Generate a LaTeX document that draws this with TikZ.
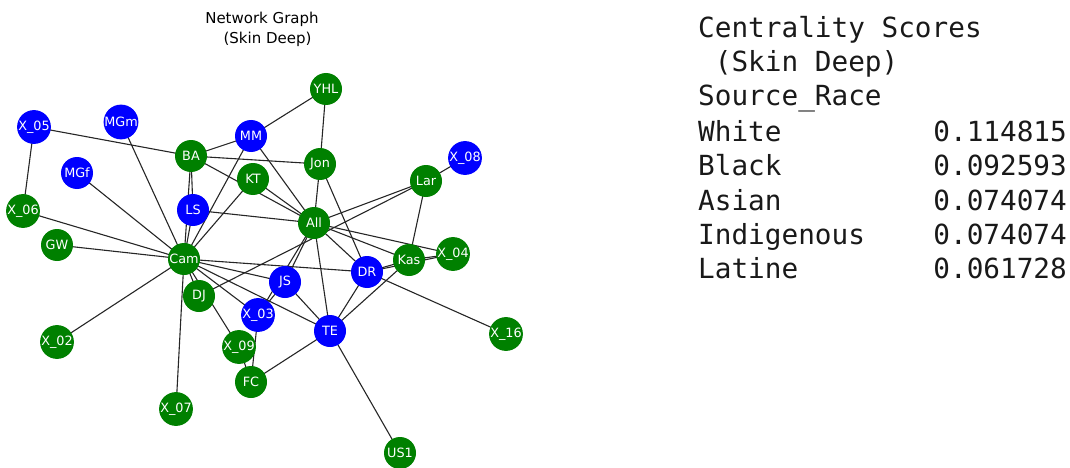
\documentclass[tikz,border=0pt]{standalone}
\usepackage{fontspec}
\setmainfont{DejaVu Sans}
\newfontfamily\monofont{DejaVu Sans Mono}
\definecolor{nodegreen}{HTML}{008000}
\definecolor{nodeblue}{HTML}{0000FF}
\pgfdeclarelayer{bg}
\pgfsetlayers{bg,main}
\begin{document}
\begin{tikzpicture}[x=1pt,y=-1pt,
  vtx/.style={circle,inner sep=0pt,minimum size=32pt,text=white,
    font=\fontsize{12.8}{12.8}\selectfont},
  gv/.style={vtx,fill=nodegreen},
  bv/.style={vtx,fill=nodeblue},
  edge/.style={draw=black!85,line width=1.1pt},
  ttl/.style={font=\fontsize{15}{15}\selectfont,inner sep=0pt},
  tbl/.style={font=\monofont\fontsize{27.7}{27.7}\selectfont,inner sep=0pt,text=black!90}]
\useasboundingbox (0,0) rectangle (1070,468);

% title of the graph panel
\node[ttl] (t1) at (262,19) {Network Graph};
\node[ttl] (t2) at (267.5,39) {(Skin Deep)};

% vertices
\node[bv] (X05) at (34,127) {X\_05};
\node[bv] (MGm) at (121,122) {MGm};
\node[bv] (MGf) at (77,173) {MGf};
\node[gv] (X06) at (23,211) {X\_06};
\node[gv] (GW)  at (57,245) {GW};
\node[gv] (BA)  at (191,156) {BA};
\node[bv] (MM)  at (251,136) {MM};
\node[gv] (YHL) at (326,89) {YHL};
\node[gv] (Jon) at (320,164) {Jon};
\node[gv] (KT)  at (253,179) {KT};
\node[bv] (LS)  at (193,210) {LS};
\node[gv] (Lar) at (426,181) {Lar};
\node[bv] (X08) at (465,158) {X\_08};
\node[gv] (All) at (314,223) {All};
\node[gv] (Cam) at (184,259) {Cam};
\node[gv] (DJ)  at (199,296) {DJ};
\node[bv] (JS)  at (285,282) {JS};
\node[bv] (DR)  at (367,272) {DR};
\node[gv] (Kas) at (409,260) {Kas};
\node[gv] (X04) at (453,254) {X\_04};
\node[bv] (X03) at (258,315) {X\_03};
\node[gv] (X09) at (239,347) {X\_09};
\node[bv] (TE)  at (330,331) {TE};
\node[gv] (X16) at (506,334) {X\_16};
\node[gv] (FC)  at (251,382) {FC};
\node[gv] (X02) at (57,342) {X\_02};
\node[gv] (X07) at (176,409) {X\_07};
\node[gv] (US1) at (400,453) {US1};

% edges, drawn behind the vertices
\begin{pgfonlayer}{bg}
\foreach \a/\b in {X05/X06,X05/BA,MGm/Cam,MGf/Cam,X06/Cam,GW/Cam,
  BA/MM,BA/Jon,BA/LS,BA/All,BA/Cam,MM/YHL,MM/Cam,MM/All,KT/Cam,KT/All,
  YHL/Jon,Jon/All,Jon/DR,LS/All,LS/Cam,Lar/All,Lar/DJ,Lar/Kas,Lar/X08,
  All/X04,All/Kas,All/DR,All/TE,All/JS,All/X03,
  Cam/DR,Cam/JS,Cam/X03,Cam/TE,Cam/DJ,Cam/X07,Cam/X02,Cam/X09,
  X09/FC,X03/FC,FC/TE,JS/TE,DR/TE,Kas/TE,TE/US1,DR/Kas,DR/X04,Kas/X04,
  DR/X16,JS/X03}
  \draw[edge] (\a.center) -- (\b.center);
\end{pgfonlayer}

% centrality table
\node[tbl,anchor=base west] (h1) at (698,38) {Centrality Scores};
\node[tbl,anchor=base west] (h2) at (698,72) {\ (Skin Deep)};
\node[tbl,anchor=base west] (h3) at (698,106) {Source\_Race};
\node[tbl,anchor=base west] (r1) at (698,141) {White};
\node[tbl,anchor=base west] (r2) at (698,175) {Black};
\node[tbl,anchor=base west] (r3) at (698,210) {Asian};
\node[tbl,anchor=base west] (r4) at (698,244) {Indigenous};
\node[tbl,anchor=base west] (r5) at (698,278) {Latine};
\node[tbl,anchor=base east] (v1) at (1067,141) {0.114815};
\node[tbl,anchor=base east] (v2) at (1067,175) {0.092593};
\node[tbl,anchor=base east] (v3) at (1067,210) {0.074074};
\node[tbl,anchor=base east] (v4) at (1067,244) {0.074074};
\node[tbl,anchor=base east] (v5) at (1067,278) {0.061728};
\end{tikzpicture}
\end{document}
